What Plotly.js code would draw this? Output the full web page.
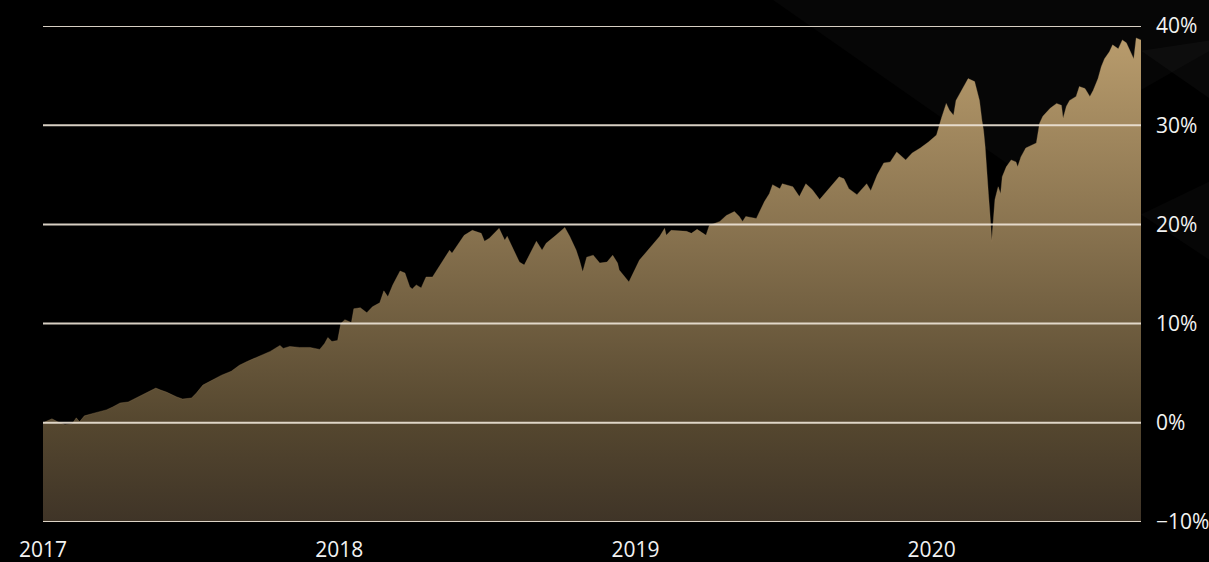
<!DOCTYPE html>
<html>
<head>
<meta charset="utf-8">
<script src="https://cdn.plot.ly/plotly-3.0.1.min.js"></script>
<style>
html,body{margin:0;padding:0;background:#000;}
#chart{width:1209px;height:562px;}
</style>
</head>
<body>
<div id="chart"></div>
<script>
const dates = [
'2017-01-01','2017-01-12','2017-01-19','2017-01-28','2017-02-06','2017-02-11','2017-02-15','2017-02-21','2017-03-06','2017-03-20',
'2017-03-28','2017-04-06','2017-04-16','2017-04-26','2017-05-09','2017-05-20','2017-05-26','2017-06-02','2017-06-15','2017-06-22',
'2017-07-03','2017-07-09','2017-07-17','2017-07-29','2017-08-09','2017-08-21','2017-08-31','2017-09-10','2017-09-23','2017-10-08',
'2017-10-20','2017-10-24','2017-11-01','2017-11-13','2017-11-26','2017-12-08','2017-12-14','2017-12-18','2017-12-23','2017-12-30',
'2018-01-03','2018-01-08','2018-01-16','2018-01-19','2018-01-27','2018-02-04','2018-02-11','2018-02-20','2018-02-25','2018-03-02',
'2018-03-08','2018-03-17','2018-03-23','2018-03-29','2018-04-01','2018-04-06','2018-04-12','2018-04-18','2018-04-26','2018-05-08',
'2018-05-17','2018-05-20','2018-06-04','2018-06-14','2018-06-25','2018-06-29','2018-07-05','2018-07-17','2018-07-24','2018-07-27',
'2018-08-02','2018-08-11','2018-08-17','2018-08-23','2018-09-01','2018-09-08','2018-09-13','2018-09-25','2018-10-06','2018-10-12',
'2018-10-15','2018-10-20','2018-10-24','2018-10-28','2018-11-02','2018-11-10','2018-11-18','2018-11-27','2018-12-04','2018-12-10',
'2018-12-12','2018-12-24','2019-01-06','2019-01-19','2019-01-31','2019-02-06','2019-02-08','2019-02-14','2019-03-05','2019-03-11',
'2019-03-18','2019-03-29','2019-04-02','2019-04-15','2019-04-23','2019-05-03','2019-05-09','2019-05-13','2019-05-17','2019-05-30',
'2019-06-05','2019-06-09','2019-06-15','2019-06-19','2019-06-28','2019-07-01','2019-07-14','2019-07-22','2019-07-30','2019-08-07',
'2019-08-16','2019-08-24','2019-09-01','2019-09-09','2019-09-15','2019-09-21','2019-10-01','2019-10-09','2019-10-13','2019-10-18',
'2019-10-26','2019-11-03','2019-11-11','2019-11-19','2019-11-30','2019-12-08','2019-12-18','2019-12-28','2020-01-07','2020-01-13',
'2020-01-19','2020-01-23','2020-01-28','2020-01-31','2020-02-09','2020-02-15','2020-02-23','2020-02-27','2020-02-29','2020-03-03',
'2020-03-05','2020-03-07','2020-03-09','2020-03-11','2020-03-14','2020-03-15','2020-03-17','2020-03-19','2020-03-23','2020-03-26',
'2020-03-28','2020-04-02','2020-04-08','2020-04-14','2020-04-16','2020-04-20','2020-04-26','2020-05-03','2020-05-09','2020-05-13',
'2020-05-17','2020-05-26','2020-06-03','2020-06-09','2020-06-11','2020-06-15','2020-06-19','2020-06-27','2020-07-01','2020-07-08',
'2020-07-14','2020-07-18','2020-07-24','2020-07-28','2020-08-01','2020-08-07','2020-08-11','2020-08-18','2020-08-23','2020-08-28',
'2020-09-01','2020-09-06','2020-09-09','2020-09-15'
];
const returns = [
0.0,0.4,0.1,-0.2,-0.1,0.5,0.1,0.7,1.0,1.3,
1.6,2.0,2.1,2.5,3.1,3.5,3.3,3.1,2.6,2.4,
2.5,3.0,3.8,4.3,4.8,5.2,5.8,6.2,6.7,7.2,
7.8,7.5,7.7,7.6,7.6,7.4,8.0,8.6,8.2,8.3,
10.0,10.4,10.1,11.5,11.6,11.1,11.7,12.1,13.3,12.7,
13.9,15.3,15.1,13.7,13.5,13.9,13.6,14.7,14.7,16.2,
17.4,17.1,18.9,19.4,19.1,18.3,18.6,19.6,18.4,18.8,
17.8,16.2,15.9,16.9,18.3,17.4,18.1,18.9,19.7,18.8,
18.3,17.4,16.4,15.2,16.7,16.9,16.1,16.2,16.9,16.1,
15.4,14.2,16.4,17.7,18.8,19.6,18.9,19.4,19.3,19.1,
19.5,18.9,19.9,20.3,20.9,21.3,20.8,20.3,20.8,20.6,
21.6,22.3,23.1,24.0,23.6,24.1,23.8,22.8,24.1,23.5,
22.5,23.3,24.1,24.8,24.6,23.6,23.0,23.8,24.1,23.4,
25.0,26.2,26.3,27.3,26.5,27.2,27.7,28.3,29.0,30.7,
32.2,31.5,31.0,32.5,33.9,34.7,34.4,32.9,32.5,30.5,
29.5,27.8,24.8,23.1,19.8,18.3,20.4,22.5,23.8,23.1,
24.8,25.8,26.5,26.3,25.8,26.8,27.7,28.0,28.2,30.2,
30.9,31.7,32.2,32.0,30.7,31.9,32.5,32.9,33.9,33.7,
32.9,33.5,34.7,35.9,36.7,37.4,38.1,37.7,38.6,38.3,
37.6,36.7,38.8,38.6
];
const baseDates = ['2017-01-01','2020-09-15'];
const baseValues = [-10,-10];
const yTickVals = [-10,0,10,20,30,40];
const yTickText = ['\u221210%','0%','10%','20%','30%','40%'];
const xTickVals = ['2017-01-01','2018-01-01','2019-01-01','2020-01-01'];
const xTickText = ['2017','2018','2019','2020'];

const gridShapes = yTickVals.map(v => ({
  type:'line', xref:'paper', yref:'y', x0:0, x1:1, y0:v, y1:v,
  line:{color:'rgba(238,230,216,0.9)', width:2}, layer:'above'
}));

const bgShapes = [
  {type:'path', xref:'paper', yref:'paper', layer:'below',
   path:'M 0.66,1.06 L 0.88,0.72 L 1.15,1.06 Z', fillcolor:'rgba(255,255,255,0.022)', line:{width:0}},
  {type:'path', xref:'paper', yref:'paper', layer:'below',
   path:'M 1.0,0.95 L 1.15,0.72 L 1.15,1.0 Z', fillcolor:'rgba(255,255,255,0.03)', line:{width:0}},
  {type:'path', xref:'paper', yref:'paper', layer:'below',
   path:'M 1.0,0.62 L 1.15,0.4 L 1.15,0.78 Z', fillcolor:'rgba(255,255,255,0.025)', line:{width:0}}
];

const traces = [
  {x: baseDates, y: baseValues, type:'scatter', mode:'lines', line:{width:0}, hoverinfo:'skip', showlegend:false},
  {x: dates, y: returns, type:'scatter', mode:'lines', fill:'tonexty',
   line:{width:0.5, color:'rgba(160,135,95,0.6)'},
   fillgradient:{type:'vertical', start:-10, stop:40,
     colorscale:[[0,'#3f3427'],[0.2,'#55472f'],[0.6,'#8a7450'],[1,'#bb9e6e']]},
   showlegend:false}
];

const layout = {
  width:1209, height:562,
  margin:{l:43, r:68, t:26, b:40, pad:0},
  paper_bgcolor:'#000', plot_bgcolor:'rgba(0,0,0,0)',
  showlegend:false,
  font:{family:'"Open Sans", sans-serif', color:'#f2f2f2', size:21},
  xaxis:{type:'date', range:['2017-01-01','2020-09-15'], tickvals:xTickVals, ticktext:xTickText,
    showgrid:false, zeroline:false, showline:false, ticks:'', ticklabelstandoff:13,
    tickfont:{size:21, color:'#f2f2f2'}},
  yaxis:{range:[-10,40], side:'right', tickvals:yTickVals, ticktext:yTickText,
    showgrid:false, zeroline:false, showline:false, ticks:'', ticklabelstandoff:14,
    tickfont:{size:21, color:'#f2f2f2'}},
  shapes: bgShapes.concat(gridShapes)
};

Plotly.newPlot('chart', traces, layout, {displayModeBar:false, staticPlot:true});
</script>
</body>
</html>
